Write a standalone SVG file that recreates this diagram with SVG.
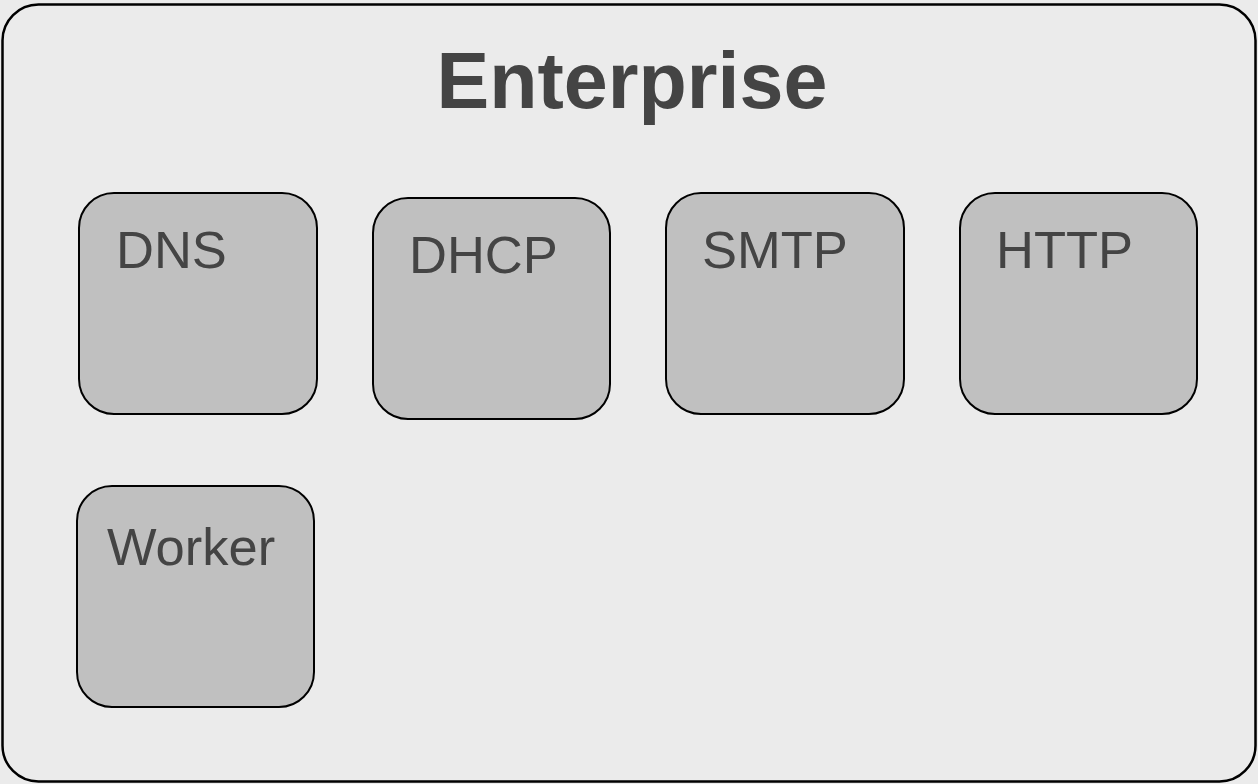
<svg xmlns="http://www.w3.org/2000/svg" width="1258" height="784" viewBox="0 0 1258 784">
<style>
.node{fill:#c0c0c0;stroke:#000;stroke-width:2}
.lbl{font-family:"Liberation Sans",Arial,sans-serif;font-size:52.5px;fill:#444}
.title{font-family:"Liberation Sans",Arial,sans-serif;font-size:79px;font-weight:bold;fill:#444}
</style>
<rect width="1258" height="784" fill="#ebebeb"/>
<g id="enterprise">
<rect x="2.5" y="4.5" width="1253" height="777" rx="36" fill="#ebebeb" stroke="#000" stroke-width="2.5"/>
<text class="title" x="632" y="108" text-anchor="middle">Enterprise</text>
</g>
<g id="dns"><rect class="node" x="79" y="193" width="238" height="221" rx="35"/><text class="lbl" x="116" y="268">DNS</text></g>
<g id="dhcp"><rect class="node" x="373" y="198" width="237" height="221" rx="35"/><text class="lbl" x="409" y="273">DHCP</text></g>
<g id="smtp"><rect class="node" x="666" y="193" width="238" height="221" rx="35"/><text class="lbl" x="702" y="268">SMTP</text></g>
<g id="http"><rect class="node" x="960" y="193" width="237" height="221" rx="35"/><text class="lbl" x="996" y="268">HTTP</text></g>
<g id="worker"><rect class="node" x="77" y="486" width="237" height="221" rx="35"/><text class="lbl" x="107" y="565">Worker</text></g>
<g id="connectors"></g>
</svg>
